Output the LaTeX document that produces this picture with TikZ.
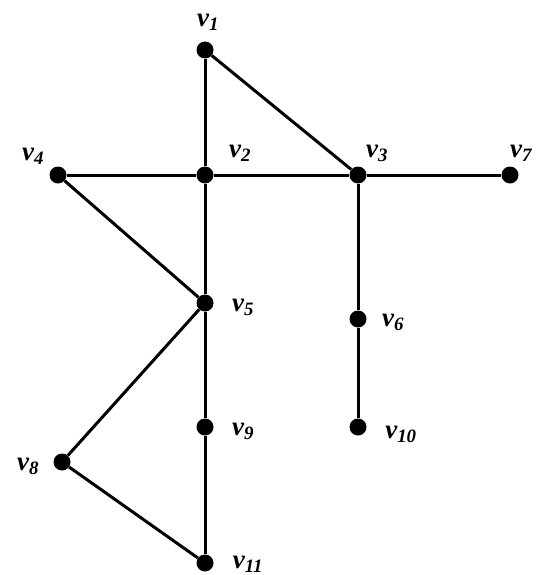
\documentclass[tikz,border=0pt]{standalone}
\usepackage{fontspec}
\setmainfont{Liberation Serif}
\begin{document}
\begin{tikzpicture}[x=1pt,y=-1pt,
  vert/.style={circle,fill=black,inner sep=0pt,minimum size=17pt},
  lab/.style={font=\fontsize{27}{29}\selectfont\bfseries\itshape,inner sep=0pt},
  edge/.style={line width=3pt}]
\useasboundingbox (0,0) rectangle (535,575);
\node[vert] (v1) at (205,50) {};
\node[vert] (v2) at (205,175) {};
\node[vert] (v3) at (358,175) {};
\node[vert] (v4) at (58,175) {};
\node[vert] (v7) at (510,175) {};
\node[vert] (v5) at (205,303) {};
\node[vert] (v6) at (358,319) {};
\node[vert] (v9) at (205,427) {};
\node[vert] (v10) at (358,427) {};
\node[vert] (v8) at (62,462) {};
\node[vert] (v11) at (205,563) {};
\draw[edge] (v1) -- (v2);
\draw[edge] (v1) -- (v3);
\draw[edge] (v4) -- (v2);
\draw[edge] (v2) -- (v3);
\draw[edge] (v3) -- (v7);
\draw[edge] (v2) -- (v5);
\draw[edge] (v4) -- (v5);
\draw[edge] (v3) -- (v6);
\draw[edge] (v6) -- (v10);
\draw[edge] (v5) -- (v9);
\draw[edge] (v9) -- (v11);
\draw[edge] (v5) -- (v8);
\draw[edge] (v8) -- (v11);
\node[lab] (l1) at (208,22) {v\textsubscript{1}};
\node[lab] (l2) at (240,153) {v\textsubscript{2}};
\node[lab] (l3) at (377,153) {v\textsubscript{3}};
\node[lab] (l4) at (33,156) {v\textsubscript{4}};
\node[lab] (l7) at (521,153) {v\textsubscript{7}};
\node[lab] (l5) at (243,307) {v\textsubscript{5}};
\node[lab] (l6) at (393,322) {v\textsubscript{6}};
\node[lab] (l9) at (243,431) {v\textsubscript{9}};
\node[lab] (l10) at (401,434) {v\textsubscript{10}};
\node[lab] (l8) at (28,466) {v\textsubscript{8}};
\node[lab] (l11) at (248,564) {v\textsubscript{11}};
\end{tikzpicture}
\end{document}
